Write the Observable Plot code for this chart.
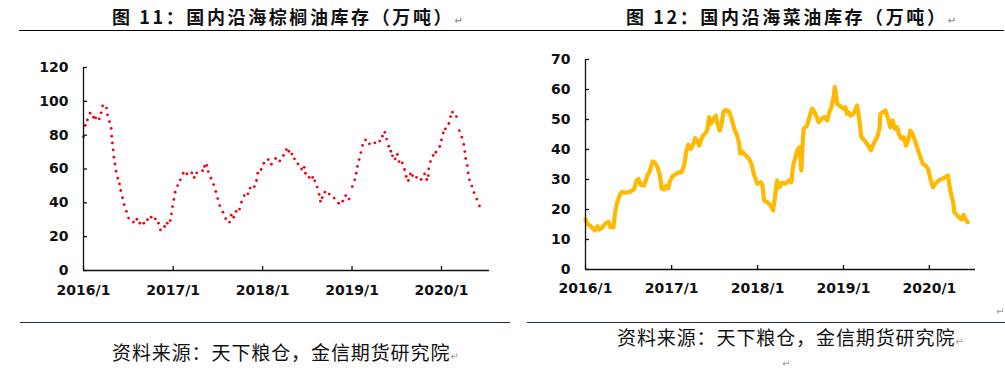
<!DOCTYPE html>
<html>
<head>
<meta charset="utf-8">
<script src="https://cdn.jsdelivr.net/npm/d3@7"></script>
<script src="https://cdn.jsdelivr.net/npm/@observablehq/plot@0.6"></script>
<style>
  html, body { margin: 0; padding: 0; background: #fff; }
  body { width: 1005px; height: 370px; position: relative; overflow: hidden; }
  .abs { position: absolute; white-space: nowrap; }
  .title { font-family: "Noto Sans CJK SC"; font-weight: bold; font-size: 18px; letter-spacing: 2.6px; color: #111; line-height: 1; }
  .cap { font-family: "Noto Sans CJK SC"; font-weight: normal; font-size: 19px; letter-spacing: 0.9px; color: #111; line-height: 1; }
  .ret { font-family: "DejaVu Sans"; font-size: 10px; color: #999; letter-spacing: 0; }
  .hline { position: absolute; height: 0; }
</style>
</head>
<body>
<div class="hline" style="left:19px;top:30px;width:985px;border-top:1.3px solid #000;"></div>
<div class="abs title" style="left:112px;top:7px;">图 11：国内沿海棕榈油库存（万吨）<span class="ret">↵</span></div>
<div class="abs title" style="left:626px;top:7px;">图 12：国内沿海菜油库存（万吨）<span class="ret">↵</span></div>
<div id="left" class="abs" style="left:0;top:0;"></div>
<div id="right" class="abs" style="left:500px;top:0;"></div>
<div class="hline" style="left:20px;top:322px;width:490px;border-top:1.3px solid #1c2a55;"></div>
<div class="hline" style="left:527px;top:322px;width:478px;border-top:1.3px solid #1c2a55;"></div>
<div class="abs cap" style="left:112px;top:342px;">资料来源：天下粮仓，金信期货研究院<span class="ret">↵</span></div>
<div class="abs cap" style="left:617px;top:327px;">资料来源：天下粮仓，金信期货研究院<span class="ret">↵</span></div>
<div class="abs ret" style="left:782px;top:358px;">↵</div>
<div class="abs ret" style="left:996px;top:306px;">↵</div>
<script>
// ---- shared axis data ----
const xTickDates = ["2016-01-01", "2017-01-01", "2018-01-01", "2019-01-01", "2020-01-01"];
const xTickLabels = ["2016/1", "2017/1", "2018/1", "2019/1", "2020/1"];
const xDomain = ["2016-01-01", "2020-07-15"];

// ---- Figure 11: palm oil inventory (万吨) ----
const palmDates = [
  "2016-01-01","2016-01-08","2016-01-17","2016-01-28","2016-02-11","2016-02-20","2016-03-05","2016-03-13","2016-03-19","2016-04-04",
  "2016-04-08","2016-04-16","2016-04-23","2016-04-25","2016-04-28","2016-05-01","2016-05-04","2016-05-08","2016-05-13","2016-05-20",
  "2016-05-27","2016-06-01","2016-06-08","2016-06-15","2016-06-24","2016-07-03","2016-07-23","2016-08-06","2016-08-18","2016-09-03",
  "2016-09-18","2016-10-03","2016-10-20","2016-11-02","2016-11-10","2016-11-27","2016-12-08","2016-12-20","2016-12-25","2016-12-29",
  "2017-01-04","2017-01-09","2017-01-19","2017-01-30","2017-02-11","2017-02-26","2017-03-18","2017-03-28","2017-04-07","2017-05-01",
  "2017-05-09","2017-05-18","2017-05-24","2017-06-04","2017-06-15","2017-06-24","2017-07-02","2017-07-10","2017-07-23","2017-08-03",
  "2017-08-19","2017-08-26","2017-09-05","2017-09-15","2017-09-29","2017-10-07","2017-10-18","2017-11-02","2017-11-11","2017-11-28",
  "2017-12-07","2017-12-12","2017-12-26","2018-01-06","2018-01-24","2018-02-06","2018-02-23","2018-03-12","2018-03-27","2018-04-08",
  "2018-04-18","2018-04-30","2018-05-11","2018-05-25","2018-06-09","2018-06-20","2018-06-25","2018-07-10","2018-07-24","2018-08-02",
  "2018-08-12","2018-08-20","2018-08-25","2018-09-01","2018-09-12","2018-09-30","2018-10-20","2018-11-07","2018-11-24","2018-12-06",
  "2018-12-20","2019-01-02","2019-01-12","2019-01-18","2019-01-23","2019-01-30","2019-02-06","2019-02-13","2019-02-25","2019-03-13",
  "2019-04-04","2019-04-24","2019-05-05","2019-05-15","2019-05-22","2019-05-31","2019-06-08","2019-06-15","2019-06-26","2019-07-05",
  "2019-07-12","2019-07-25","2019-08-03","2019-08-10","2019-08-19","2019-08-27","2019-09-05","2019-09-21","2019-10-10","2019-10-24",
  "2019-11-02","2019-11-08","2019-11-10","2019-11-17","2019-11-28","2019-12-09","2019-12-25","2020-01-01","2020-01-08","2020-01-17",
  "2020-01-31","2020-02-07","2020-02-15","2020-03-02","2020-03-14","2020-03-24","2020-04-01","2020-04-05","2020-04-09","2020-04-15",
  "2020-04-19","2020-04-24","2020-05-04","2020-05-13","2020-05-24","2020-06-04"
];
const palmValues = [
  79, 85.7, 89, 93, 90.6, 90.2, 89.6, 93.2, 97.3, 96,
  92, 88, 84, 79.4, 75.4, 71.3, 67, 63, 58.7, 54.6,
  51.2, 47.3, 43, 39, 35, 31, 28.6, 30.3, 28, 28,
  30, 31.5, 30.5, 28, 24, 26, 28, 29.5, 33.5, 37.8,
  42, 46.3, 50.2, 53.6, 57.5, 57.1, 57.7, 55, 57.7, 59,
  61.5, 62.2, 58.5, 54.6, 50.8, 46.7, 42.5, 38.4, 34.5, 30.7,
  28.6, 32.7, 31.5, 35, 36.3, 40.4, 44.3, 45.3, 48.7, 49.6,
  53.2, 57.5, 59.7, 63.4, 65.6, 62.8, 66.2, 64.8, 68, 71.5,
  70.5, 68.8, 66, 63, 60, 61, 57.5, 55, 55, 53,
  49.3, 45, 41, 43, 46.3, 45.2, 42.8, 39.8, 41, 44.3,
  42.2, 49.6, 53.6, 57.5, 61.5, 65.6, 69.7, 74, 77.2, 74.9,
  75.5, 76.5, 79.4, 81.7, 77.7, 73.5, 70.5, 67.8, 66, 68.6,
  64.4, 63.6, 59.7, 55.6, 53.2, 57.1, 56.1, 55.1, 53.8, 57.1,
  53.8, 56.1, 60.1, 64.4, 68, 69.9, 73.3, 77.2, 81.3, 83.7,
  86.9, 91, 93.6, 91, 82.7, 78.8, 74.5, 70.3, 66.2, 62,
  57.7, 53.6, 49.9, 46, 42.2, 38.2
];
const palmTicks = [0, 20, 40, 60, 80, 100, 120];

// ---- Figure 12: rapeseed oil inventory (万吨) ----
const rapeDates = [
  "2016-01-01","2016-01-09","2016-01-24","2016-02-09","2016-02-21","2016-02-28","2016-03-13","2016-03-30","2016-04-08","2016-04-16",
  "2016-04-29","2016-05-04","2016-05-13","2016-05-26","2016-06-03","2016-06-20","2016-07-11","2016-07-26","2016-08-05","2016-08-13",
  "2016-08-23","2016-09-06","2016-09-20","2016-09-28","2016-10-12","2016-10-23","2016-11-02","2016-11-12","2016-11-20","2016-11-30",
  "2016-12-10","2016-12-18","2016-12-24","2017-01-04","2017-01-19","2017-02-02","2017-02-12","2017-02-23","2017-03-05","2017-03-13",
  "2017-03-23","2017-04-02","2017-04-11","2017-04-21","2017-04-28","2017-05-08","2017-05-15","2017-05-26","2017-06-02","2017-06-09",
  "2017-06-18","2017-06-28","2017-07-07","2017-07-15","2017-07-24","2017-08-02","2017-08-09","2017-08-19","2017-09-02","2017-09-13",
  "2017-09-24","2017-10-05","2017-10-15","2017-10-19","2017-10-29","2017-11-12","2017-11-26","2017-12-07","2017-12-17","2017-12-31",
  "2018-01-15","2018-01-22","2018-01-29","2018-02-12","2018-02-26","2018-03-08","2018-03-17","2018-03-25","2018-04-04","2018-04-15",
  "2018-04-29","2018-05-13","2018-05-25","2018-06-01","2018-06-11","2018-06-18","2018-06-28","2018-07-06","2018-07-12","2018-07-16",
  "2018-07-31","2018-08-11","2018-08-21","2018-09-01","2018-09-18","2018-10-02","2018-10-13","2018-10-24","2018-11-02","2018-11-11",
  "2018-11-21","2018-11-25","2018-12-01","2018-12-05","2018-12-19","2019-01-02","2019-01-09","2019-01-16","2019-01-23","2019-01-30",
  "2019-02-13","2019-02-28","2019-03-07","2019-03-18","2019-04-01","2019-04-16","2019-04-28","2019-05-09","2019-05-24","2019-06-03",
  "2019-06-07","2019-06-17","2019-06-28","2019-07-10","2019-07-19","2019-07-29","2019-08-07","2019-08-17","2019-08-27","2019-09-04",
  "2019-09-14","2019-09-24","2019-10-03","2019-10-12","2019-10-22","2019-11-03","2019-11-17","2019-12-04","2019-12-15","2019-12-26",
  "2020-01-05","2020-01-17","2020-01-26","2020-02-09","2020-02-24","2020-03-09","2020-03-20","2020-03-30","2020-04-11","2020-04-16",
  "2020-04-28","2020-05-07","2020-05-16","2020-05-26","2020-06-02","2020-06-12"
];
const rapeValues = [
  16.7, 15.2, 14.4, 13, 14.4, 13.3, 14.1, 15.6, 15.8, 14.1,
  14.1, 18, 21.9, 24.9, 25.8, 25.6, 26, 26.9, 29.7, 30.2,
  28.2, 28, 31.3, 32.4, 36, 35.6, 34.1, 31.3, 26.9, 26.7,
  28, 27.1, 29.3, 31, 31.9, 32.4, 32.4, 34.7, 39.7, 41.6,
  40.2, 41.6, 43.8, 43, 41.3, 43.6, 44.7, 45.6, 46.7, 50.8,
  48.6, 50.2, 51.3, 48.6, 46.3, 48.6, 52.7, 53.2, 52.7, 50.2,
  46.9, 44.9, 41.9, 38.6, 39.3, 38, 36.9, 34.9, 31.6, 28.6,
  29.1, 28, 23, 22.4, 21.3, 19.7, 24.7, 29.7, 27.4, 28.9,
  28.6, 29.7, 29.1, 34.7, 37.4, 39.7, 40.8, 33, 42.4, 46.9,
  48, 51.3, 53.6, 52.4, 49.1, 50.4, 50.8, 49.7, 52.4, 54.1,
  58, 60.8, 58, 55.2, 54.4, 53.6, 54.1, 51.9, 52.4, 51.3,
  51.9, 54.7, 51.3, 44.1, 43, 41.3, 39.7, 41.9, 44.1, 46.9,
  51.9, 52.4, 53, 50.2, 47.4, 49.7, 46.9, 47.4, 44.7, 43.6,
  44.1, 41.3, 43, 46.3, 45.2, 42.4, 39.1, 35.2, 34.7, 33.6,
  30.4, 27.4, 28.6, 29.7, 30.2, 30.8, 31.3, 26.3, 22.4, 19.1,
  18, 17.4, 16.7, 18.2, 16.7, 15.8
];
const rapeTicks = [0, 10, 20, 30, 40, 50, 60, 70];

// ---- build ----
const parse = d3.utcParse("%Y-%m-%d");
const xTicks = xTickDates.map(parse);
const xDom = xDomain.map(parse);
const fmtX = d => xTickLabels[xTicks.findIndex(t => +t === +d)];
const palm = palmDates.map((d, i) => ({date: parse(d), value: palmValues[i]}));
const rape = rapeDates.map((d, i) => ({date: parse(d), value: rapeValues[i]}));

const axisStyle = {
  fontFamily: "DejaVu Sans",
  fontSize: "14px",
  fontWeight: "bold",
  color: "#111",
  background: "transparent",
  overflow: "visible"
};

function chart({width, height, marginLeft, marginRight, marginTop, marginBottom, yTicks, xPad, marks}) {
  return Plot.plot({
    width, height, marginLeft, marginRight, marginTop, marginBottom,
    style: axisStyle,
    x: {type: "utc", domain: xDom, label: null},
    y: {domain: [yTicks[0], yTicks[yTicks.length - 1]], label: null},
    marks: [
      Plot.axisY({ticks: yTicks, tickSize: -4, tickPadding: 19, tickFormat: d => String(d), strokeWidth: 1.3, label: null}),
      Plot.axisX({ticks: xTicks, tickSize: -4, tickPadding: xPad, tickFormat: fmtX, strokeWidth: 1.3, label: null}),
      ...marks,
      Plot.ruleY([0], {stroke: "#111", strokeWidth: 1.3}),
      Plot.ruleX([xDom[0]], {stroke: "#111", strokeWidth: 1.3})
    ]
  });
}

document.getElementById("left").append(chart({
  width: 500, height: 310, marginLeft: 83, marginRight: 11, marginTop: 67, marginBottom: 40,
  yTicks: palmTicks, xPad: 19,
  marks: [Plot.dot(palm, {x: "date", y: "value", r: 1.4, fill: "#f00010", stroke: "none"})]
}));

document.getElementById("right").append(chart({
  width: 505, height: 310, marginLeft: 85, marginRight: 30, marginTop: 59, marginBottom: 41,
  yTicks: rapeTicks, xPad: 18,
  marks: [Plot.line(rape, {x: "date", y: "value", stroke: "#FFB900", strokeWidth: 4.2, strokeLinejoin: "round", strokeLinecap: "round"})]
}));
</script>
</body>
</html>
